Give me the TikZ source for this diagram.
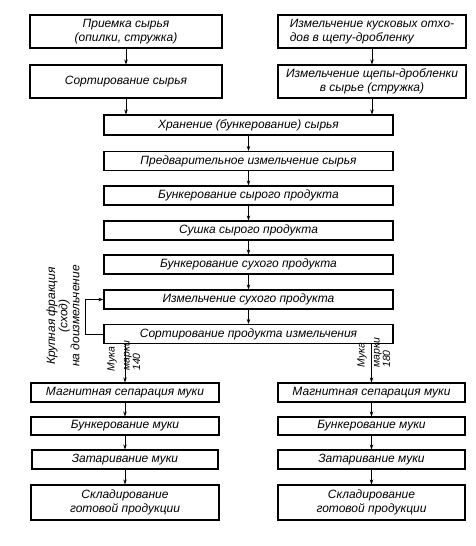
\documentclass[tikz,border=0pt]{standalone}
\usepackage{fontspec}
\setmainfont{Liberation Sans}
\usetikzlibrary{arrows.meta}
\begin{document}
\begin{tikzpicture}[x=1pt,y=-1pt,
  box/.style={draw, line width=1.1pt, rectangle, inner sep=0pt, align=center,
    font=\fontsize{12}{13.5}\selectfont\itshape},
  flow/.style={line width=0.6pt, -{Stealth[length=5pt,width=3.5pt]}},
  lbl/.style={inner sep=0pt, font=\fontsize{10.5}{8.5}\selectfont\itshape}]
\useasboundingbox (0,0) rectangle (475,546);
% top rows
\node[box, minimum width=192pt, minimum height=33pt] (a1) at (126,31.5) {Приемка сырья\\(опилки, стружка)};
\node[box, minimum width=192pt, minimum height=33pt] (a2) at (126,81.5) {Сортирование сырья};
\node[box, minimum width=188pt, minimum height=33pt, align=left] (b1) at (372,31.5) {Измельчение кусковых отхо-\\дов в щепу-дробленку};
\node[box, minimum width=188pt, minimum height=33pt] (b2) at (372,81.5) {Измельчение щепы-дробленки\\в сырье (стружка)};
% central column
\node[box, minimum width=289pt, minimum height=20pt] (c1) at (248.5,125) {Хранение (бункерование) сырья};
\node[box, minimum width=289pt, minimum height=19pt] (c2) at (248.5,161) {Предварительное измельчение сырья};
\node[box, minimum width=289pt, minimum height=19pt] (c3) at (248.5,195.5) {Бункерование сырого продукта};
\node[box, minimum width=289pt, minimum height=19pt] (c4) at (248.5,230.5) {Сушка сырого продукта};
\node[box, minimum width=289pt, minimum height=19pt] (c5) at (248.5,264.5) {Бункерование сухого продукта};
\node[box, minimum width=289pt, minimum height=19pt] (c6) at (248.5,299.5) {Измельчение сухого продукта};
\node[box, minimum width=289pt, minimum height=19pt] (c7) at (248.5,334) {Сортирование продукта измельчения};
% bottom left
\node[box, minimum width=188pt, minimum height=19pt] (d1) at (125,392.5) {Магнитная сепарация муки};
\node[box, minimum width=188pt, minimum height=18pt] (d2) at (125,426) {Бункерование муки};
\node[box, minimum width=186pt, minimum height=19pt] (d3) at (125,459.5) {Затаривание муки};
\node[box, minimum width=188pt, minimum height=35pt] (d4) at (125,502.5) {Складирование\\готовой продукции};
% bottom right
\node[box, minimum width=187pt, minimum height=19pt] (e1) at (371.5,392.5) {Магнитная сепарация муки};
\node[box, minimum width=187pt, minimum height=18pt] (e2) at (371.5,426) {Бункерование муки};
\node[box, minimum width=187pt, minimum height=19pt] (e3) at (371.5,459.5) {Затаривание муки};
\node[box, minimum width=187pt, minimum height=35pt] (e4) at (371.5,502.5) {Складирование\\готовой продукции};
% connectors
\draw[flow] (a1) -- (a2);
\draw[flow] (b1) -- (b2);
\draw[flow] (a2.south) -- (a2.south |- c1.north);
\draw[flow] (b2.south) -- (b2.south |- c1.north);
\draw[flow] (c1) -- (c2);
\draw[flow] (c2) -- (c3);
\draw[flow] (c3) -- (c4);
\draw[flow] (c4) -- (c5);
\draw[flow] (c5) -- (c6);
\draw[flow] (c6) -- (c7);
\coordinate (fb) at (85,0);
\draw[flow] (c7.west) -- (c7.west -| fb) -- (c6.west -| fb) -- (c6.west);
\draw[flow] (d1.north |- c7.south) -- (d1.north);
\draw[flow] (e1.north |- c7.south) -- (e1.north);
\draw[flow] (d1) -- (d2);
\draw[flow] (d2) -- (d3);
\draw[flow] (d3) -- (d4);
\draw[flow] (e1) -- (e2);
\draw[flow] (e2) -- (e3);
\draw[flow] (e3) -- (e4);
% labels
\node[inner sep=0pt, rotate=90, align=center, font=\fontsize{12}{10}\selectfont\itshape] (fl) at (63,316) {Крупная фракция\\(сход)\\на доизмельчение};
\node[lbl, rotate=90, anchor=west] (m1) at (112,372) {Мука};
\node[lbl, rotate=90, anchor=west, align=left] (m1b) at (132,371) {марки\\140};
\node[lbl, rotate=90, anchor=west] (m2) at (362,368) {Мука};
\node[lbl, rotate=90, anchor=west, align=left] (m2b) at (382,368) {марки\\180};
\end{tikzpicture}
\end{document}
